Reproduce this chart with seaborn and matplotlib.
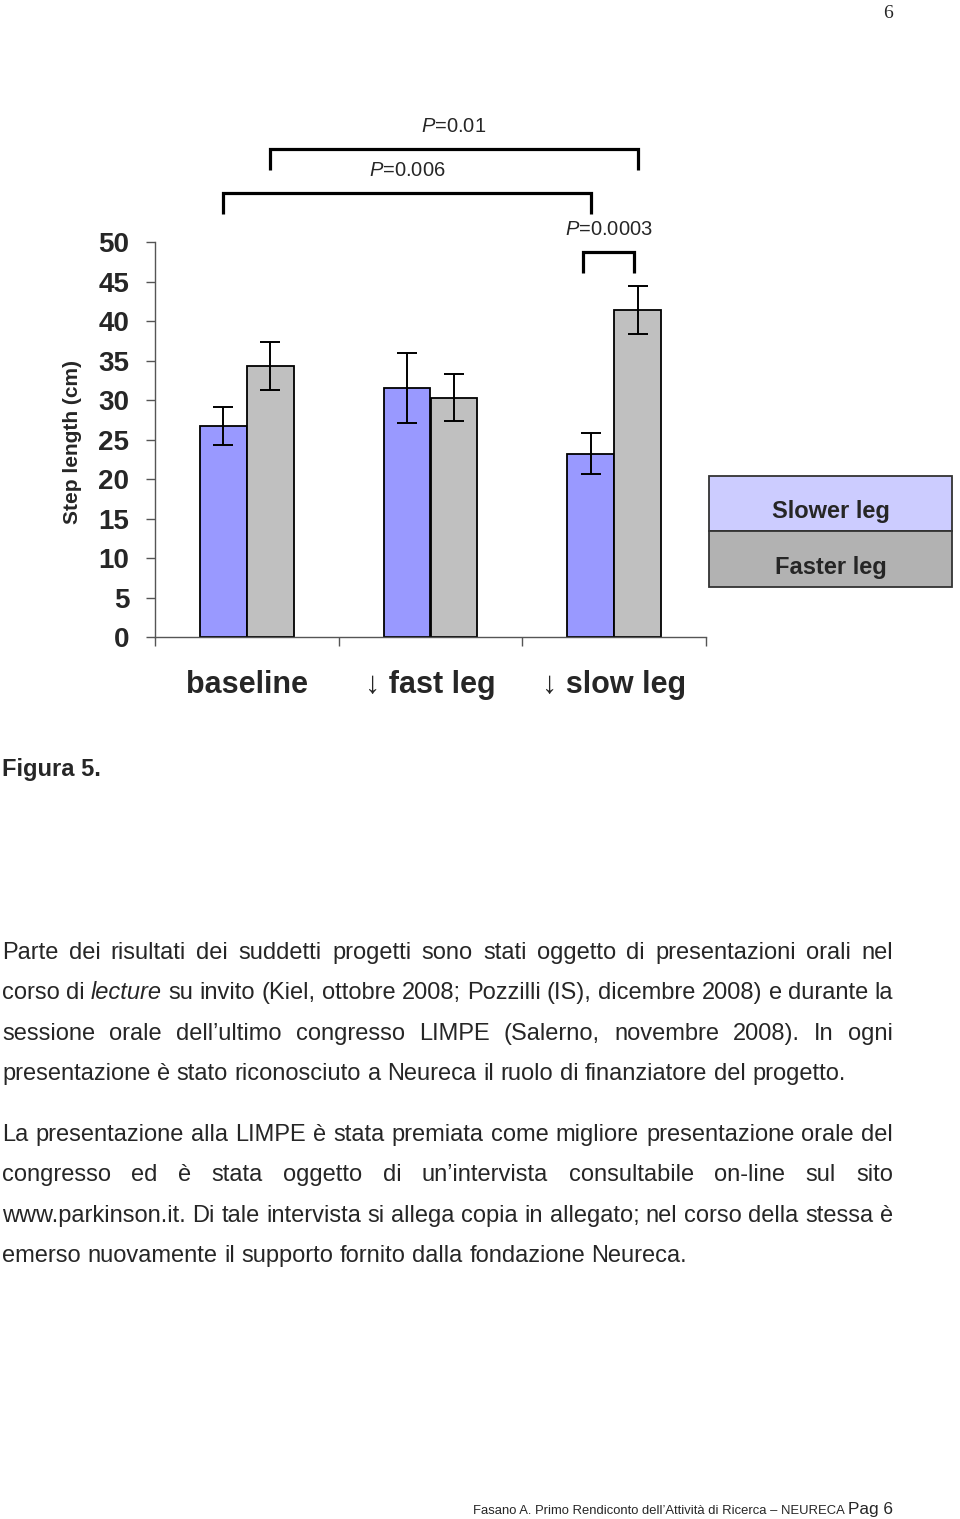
import numpy as np
import pandas as pd
import matplotlib
matplotlib.use("Agg")
import matplotlib.pyplot as plt
import seaborn as sns
from matplotlib import font_manager
from matplotlib.patches import Rectangle

# ---------------- data ----------------
conditions = ["baseline", "\u2193 fast leg", "\u2193 slow leg"]
legs = ["Slower leg", "Faster leg"]
slower_mean = [26.7, 31.5, 23.2]
faster_mean = [34.3, 30.3, 41.4]
slower_err = [2.4, 4.4, 2.6]
faster_err = [3.0, 3.0, 3.0]
y_ticks = [0, 5, 10, 15, 20, 25, 30, 35, 40, 45, 50]
y_label = "Step length (cm)"
p_labels = ["$P$=0.01", "$P$=0.006", "$P$=0.0003"]
# bracket endpoints as (condition index, leg index)
p_pairs = [((0, 1), (2, 1)), ((0, 0), (2, 0)), ((2, 0), (2, 1))]
p_levels = [61.8, 56.2, 48.7]

figure_caption = "Figura 5."
paragraph1 = [
    "Parte dei risultati dei suddetti progetti sono stati oggetto di presentazioni orali nel",
    "corso di *lecture* su invito (Kiel, ottobre 2008; Pozzilli (IS), dicembre 2008) e durante la",
    "sessione orale dell\u2019ultimo congresso LIMPE (Salerno, novembre 2008). In ogni",
    "presentazione \u00e8 stato riconosciuto a Neureca il ruolo di finanziatore del progetto.",
]
paragraph2 = [
    "La presentazione alla LIMPE \u00e8 stata premiata come migliore presentazione orale del",
    "congresso ed \u00e8 stata oggetto di un\u2019intervista consultabile on-line sul sito",
    "www.parkinson.it. Di tale intervista si allega copia in allegato; nel corso della stessa \u00e8",
    "emerso nuovamente il supporto fornito dalla fondazione Neureca.",
]
footer_text = "Fasano A. Primo Rendiconto dell\u2019Attivit\u00e0 di Ricerca \u2013 NEURECA"
footer_page = "Pag 6"
page_number = "6"

# ---------------- style ----------------
sns.set_style("ticks")
plt.rcParams["font.family"] = ["Liberation Sans", "DejaVu Sans"]
plt.rcParams["mathtext.fontset"] = "custom"
plt.rcParams["mathtext.it"] = "Liberation Sans:italic"
plt.rcParams["mathtext.rm"] = "Liberation Sans"
FAM = ["Liberation Sans", "DejaVu Sans"]

names = {f.name for f in font_manager.fontManager.ttflist}
has_narrow = "Liberation Sans Narrow" in names

W, H = 960, 1519
fig = plt.figure(figsize=(W / 100, H / 100), dpi=100)
fig.patch.set_facecolor("white")


def fx(x):
    return x / W


def fy(y):
    return 1 - y / H


ax = fig.add_axes([fx(155), fy(637), (706 - 155) / W, (637 - 242) / H])

df = pd.DataFrame({
    "condition": conditions * 2,
    "leg": [legs[0]] * 3 + [legs[1]] * 3,
    "value": slower_mean + faster_mean,
})
sns.barplot(data=df, x="condition", y="value", hue="leg", order=conditions,
            hue_order=legs, palette=["#9999ff", "#c0c0c0"], saturation=1,
            width=0.51, edgecolor="black", linewidth=1.3, errorbar=None,
            legend=False, ax=ax)

errs = [slower_err, faster_err]
centers = {}
heights = {}
for bar in ax.patches:
    if bar is None:
        continue
    xc = bar.get_x() + bar.get_width() / 2
    ci = int(round(xc))
    li = 0 if xc < ci else 1
    centers[(ci, li)] = xc
    heights[(ci, li)] = bar.get_height()

for li in range(2):
    xs = [centers[(ci, li)] for ci in range(len(conditions))]
    ys = [heights[(ci, li)] for ci in range(len(conditions))]
    ax.errorbar(xs, ys, yerr=errs[li], fmt="none", ecolor="black",
                elinewidth=1.4, capsize=7, capthick=1.4, zorder=5)

ax.set_xlim(-0.5, 2.5)
ax.set_ylim(0, 50)
ax.set_yticks(y_ticks)
ax.set_yticklabels([str(v) for v in y_ticks], fontsize=20, fontweight="bold")
ax.tick_params(axis="y", length=6.5, width=1, color="#555555", pad=12)
ax.set_xticks(range(len(conditions)))
ax.set_xticklabels(conditions, fontsize=22, fontweight="bold")
ax.set_xticks([-0.5, 0.5, 1.5, 2.5], minor=True)
ax.tick_params(axis="x", which="major", length=0, pad=24)
ax.tick_params(axis="x", which="minor", length=6.5, width=1, color="#555555")
ax.set_xlabel("")
ax.set_ylabel(y_label, fontsize=15, fontweight="bold")
ax.yaxis.set_label_coords((82 - 155) / 551, 0.494)
for s in ["top", "right"]:
    ax.spines[s].set_visible(False)
for s in ["left", "bottom"]:
    ax.spines[s].set_color("#555555")
    ax.spines[s].set_linewidth(1)

# significance brackets
leg_drop = 2.65
for lab, (a, b), lev in zip(p_labels, p_pairs, p_levels):
    x0 = centers[a]
    x1 = centers[b]
    if a[0] == b[0]:
        x0 -= 0.04
        x1 -= 0.02
    ax.plot([x0, x0, x1, x1], [lev - leg_drop, lev, lev, lev - leg_drop],
            color="black", lw=2.3, clip_on=False, solid_joinstyle="miter",
            solid_capstyle="butt")
    ax.text((x0 + x1) / 2, lev + 2.85, lab, ha="center", va="center",
            fontsize=14.5, clip_on=False)

# legend box (drawn like the original two-cell key)
lx0, lx1, ly0, lmid, ly1 = 709, 952, 476, 531, 587
fig.add_artist(Rectangle((fx(lx0), fy(lmid)), (lx1 - lx0) / W, (lmid - ly0) / H,
                         transform=fig.transFigure, facecolor="#ccccff",
                         edgecolor="#333333", lw=1.3))
fig.add_artist(Rectangle((fx(lx0), fy(ly1)), (lx1 - lx0) / W, (ly1 - lmid) / H,
                         transform=fig.transFigure, facecolor="#b2b2b2",
                         edgecolor="#333333", lw=1.3))
fig.text(fx(831), fy(518), legs[0], ha="center", va="baseline",
         fontsize=17, fontweight="bold", family=FAM)
fig.text(fx(831), fy(574), legs[1], ha="center", va="baseline",
         fontsize=17, fontweight="bold", family=FAM)

# page text
fig.text(fx(893), fy(18), page_number, ha="right", va="baseline",
         fontsize=14, family=["Liberation Serif", "DejaVu Serif"])
fig.text(fx(2), fy(776), figure_caption, ha="left", va="baseline",
         fontsize=17, fontweight="bold", family=FAM)

renderer = fig.canvas.get_renderer()
BODY_FS = 17


def width_of(t):
    return t.get_window_extent(renderer).width


def draw_line(line, y_base, justify, x0=2, x1=893):
    words = line.split(" ")
    texts = []
    for w in words:
        style = "normal"
        if w.startswith("*") and w.endswith("*"):
            w = w.strip("*")
            style = "italic"
        t = fig.text(0, fy(y_base), w, ha="left", va="baseline",
                     fontsize=BODY_FS, style=style, family=FAM)
        texts.append(t)
    widths = [width_of(t) for t in texts]
    if justify and len(words) > 1:
        gap = (x1 - x0 - sum(widths)) / (len(words) - 1)
    else:
        a = fig.text(0, 0, "x x", fontsize=BODY_FS, family=FAM)
        b = fig.text(0, 0, "xx", fontsize=BODY_FS, family=FAM)
        gap = width_of(a) - width_of(b)
        a.remove()
        b.remove()
    x = x0
    for t, w in zip(texts, widths):
        t.set_x(fx(x))
        x += w + gap


for i, (line, yb) in enumerate(zip(paragraph1, [959, 999, 1040, 1080])):
    draw_line(line, yb, justify=(i < len(paragraph1) - 1))
for i, (line, yb) in enumerate(zip(paragraph2, [1141, 1181, 1222, 1262])):
    draw_line(line, yb, justify=(i < len(paragraph2) - 1))

# footer
if has_narrow:
    ffam = ["Liberation Sans Narrow", "Liberation Sans", "DejaVu Sans"]
    fs_small, fs_big = 11.4, 15
else:
    ffam = FAM
    fs_small, fs_big = 9.4, 12.4
fig.text(fx(893), fy(1514), footer_page, ha="right", va="baseline",
         fontsize=fs_big, family=ffam)
fig.text(fx(845), fy(1514), footer_text, ha="right", va="baseline",
         fontsize=fs_small, family=ffam)

fig.savefig("out.png", dpi=100, facecolor="white")
